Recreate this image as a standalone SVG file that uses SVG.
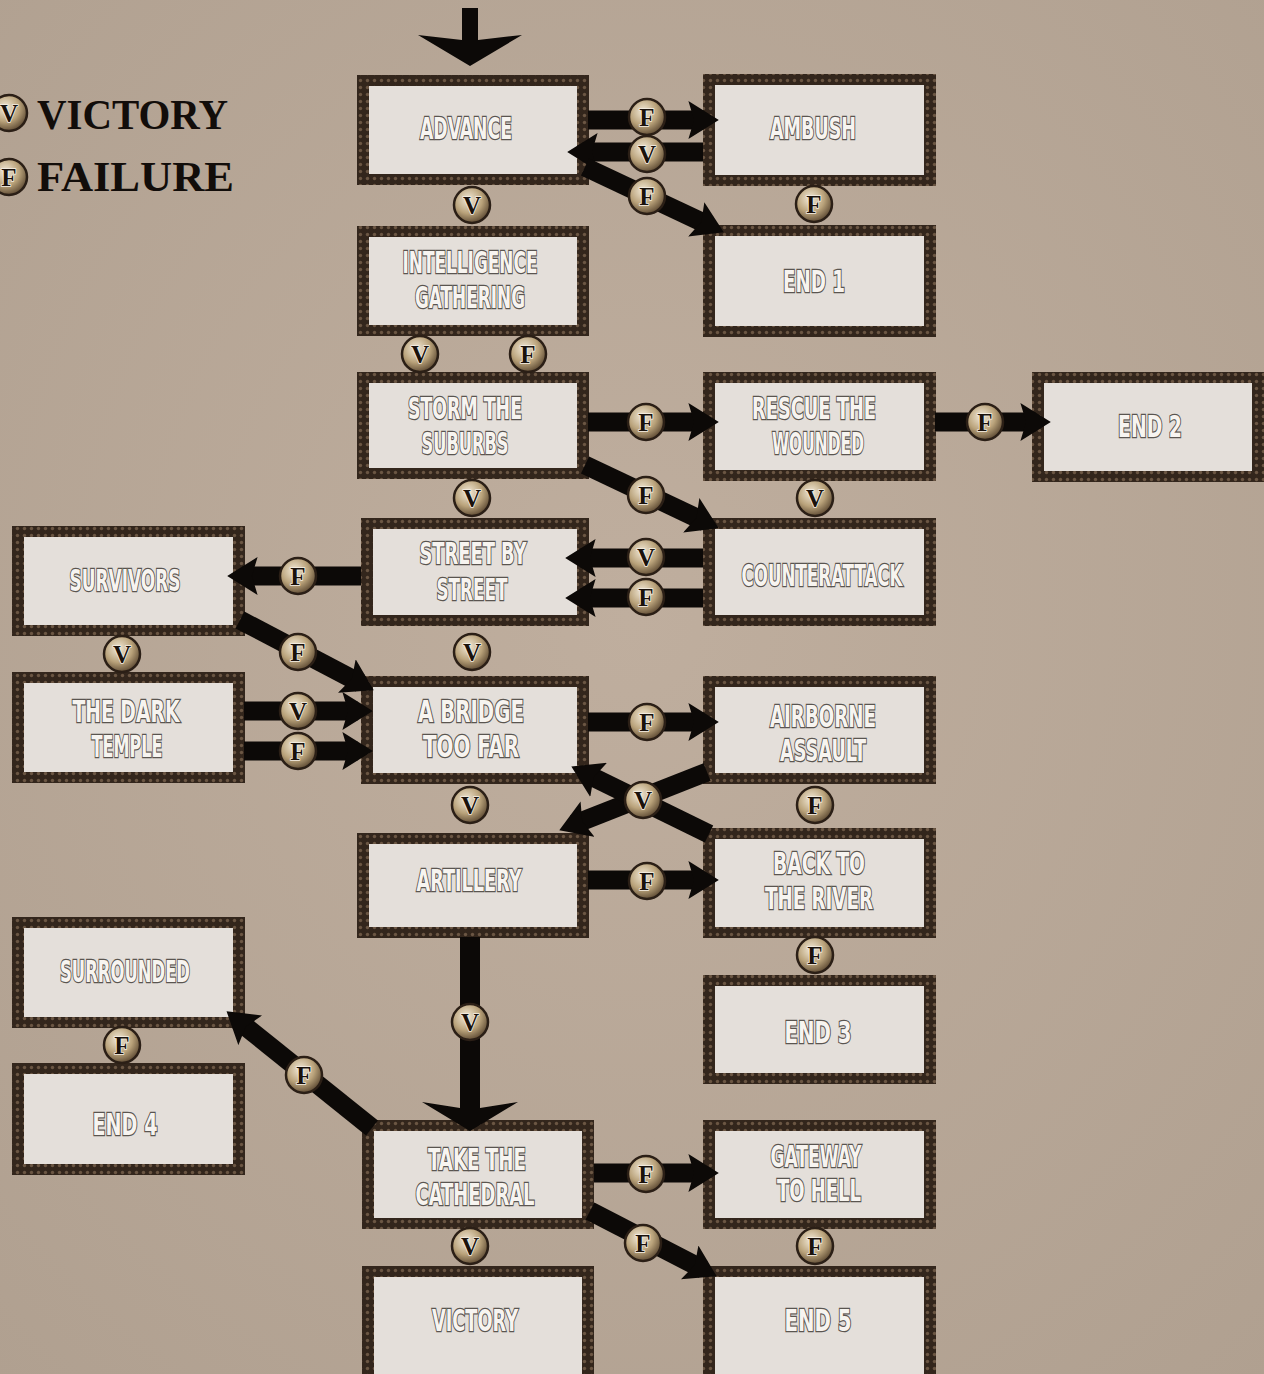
<svg xmlns="http://www.w3.org/2000/svg" width="1264" height="1374" viewBox="0 0 1264 1374">
<defs>
<style>
.frame{fill:url(#bead)}
.inner{fill:#e4dfda}
.lbl{font-family:"DejaVu Sans Condensed","DejaVu Sans","Liberation Sans",sans-serif;font-stretch:condensed;font-size:30px;font-weight:bold;fill:#f7f4f0;stroke:#5a5550;stroke-width:2.5;paint-order:stroke;text-anchor:middle;dominant-baseline:central}
.arr{stroke:#0c0907;stroke-width:19;fill:none;marker-end:url(#ah)}
.bc{fill:url(#bg);stroke:#2b1f16;stroke-width:2.5}
.bt{font-family:"Liberation Serif","DejaVu Serif",serif;font-weight:bold;font-size:25px;fill:#1a120c;stroke:#f4eee4;stroke-width:1.5;paint-order:stroke;text-anchor:middle;dominant-baseline:central}
.leg{font-family:"Liberation Serif","DejaVu Serif",serif;font-weight:bold;font-size:42px;fill:#120d0a}
</style>
<pattern id="bead" width="7" height="7" patternUnits="userSpaceOnUse">
<rect width="7" height="7" fill="#33261c"/>
<circle cx="3.5" cy="3.5" r="1.7" fill="#6b5643"/>
</pattern>
<radialGradient id="bg" cx="40%" cy="35%" r="70%">
<stop offset="0" stop-color="#f3ead8"/>
<stop offset="0.55" stop-color="#b9a27a"/>
<stop offset="1" stop-color="#54412c"/>
</radialGradient>
<radialGradient id="paper" cx="50%" cy="45%" r="75%">
<stop offset="0" stop-color="#bfae9e"/>
<stop offset="1" stop-color="#b0a090"/>
</radialGradient>
<marker id="ah" viewBox="0 0 16 20" refX="8" refY="10" markerWidth="1.6" markerHeight="2" orient="auto" markerUnits="strokeWidth">
<path d="M0,0 L16,10 L0,20 L3,10 z" fill="#0c0907"/>
</marker>
</defs>

<rect width="1264" height="1374" fill="url(#paper)"/>

<g id="legend">
<circle class="bc" cx="9" cy="113" r="18"/>
<text class="bt" x="9" y="113">V</text>
<circle class="bc" cx="9" cy="177" r="18"/>
<text class="bt" x="9" y="177">F</text>
<text class="leg" x="37" y="129" textLength="191" lengthAdjust="spacingAndGlyphs">VICTORY</text>
<text class="leg" x="37" y="191" textLength="197" lengthAdjust="spacingAndGlyphs">FAILURE</text>
</g>

<g id="nodes">
<g id="n-advance"><rect class="frame" x="357" y="75" width="232" height="110"/><rect class="inner" x="369" y="86" width="208" height="88"/><text class="lbl" x="466" y="128" textLength="92" lengthAdjust="spacingAndGlyphs">ADVANCE</text></g>
<g id="n-ambush"><rect class="frame" x="703" y="74" width="233" height="112"/><rect class="inner" x="715" y="85" width="209" height="90"/><text class="lbl" x="813" y="128" textLength="86" lengthAdjust="spacingAndGlyphs">AMBUSH</text></g>
<g id="n-intel"><rect class="frame" x="357" y="226" width="232" height="110"/><rect class="inner" x="369" y="237" width="208" height="88"/><text class="lbl" x="470" y="262" textLength="135" lengthAdjust="spacingAndGlyphs">INTELLIGENCE</text><text class="lbl" x="470" y="297" textLength="110" lengthAdjust="spacingAndGlyphs">GATHERING</text></g>
<g id="n-end1"><rect class="frame" x="703" y="225" width="233" height="112"/><rect class="inner" x="715" y="236" width="209" height="90"/><text class="lbl" x="814" y="281" textLength="62" lengthAdjust="spacingAndGlyphs">END 1</text></g>
<g id="n-storm"><rect class="frame" x="357" y="372" width="232" height="107"/><rect class="inner" x="369" y="383" width="208" height="85"/><text class="lbl" x="465" y="408" textLength="114" lengthAdjust="spacingAndGlyphs">STORM THE</text><text class="lbl" x="465" y="443" textLength="87" lengthAdjust="spacingAndGlyphs">SUBURBS</text></g>
<g id="n-rescue"><rect class="frame" x="703" y="372" width="233" height="109"/><rect class="inner" x="715" y="383" width="209" height="87"/><text class="lbl" x="814" y="408" textLength="124" lengthAdjust="spacingAndGlyphs">RESCUE THE</text><text class="lbl" x="818" y="443" textLength="92" lengthAdjust="spacingAndGlyphs">WOUNDED</text></g>
<g id="n-end2"><rect class="frame" x="1032" y="372" width="232" height="110"/><rect class="inner" x="1044" y="383" width="208" height="88"/><text class="lbl" x="1150" y="426" textLength="64" lengthAdjust="spacingAndGlyphs">END 2</text></g>
<g id="n-street"><rect class="frame" x="361" y="518" width="228" height="108"/><rect class="inner" x="373" y="529" width="204" height="86"/><text class="lbl" x="473" y="553" textLength="107" lengthAdjust="spacingAndGlyphs">STREET BY</text><text class="lbl" x="472" y="589" textLength="71" lengthAdjust="spacingAndGlyphs">STREET</text></g>
<g id="n-counter"><rect class="frame" x="703" y="518" width="233" height="108"/><rect class="inner" x="715" y="529" width="209" height="86"/><text class="lbl" x="822" y="575" textLength="161" lengthAdjust="spacingAndGlyphs">COUNTERATTACK</text></g>
<g id="n-survivors"><rect class="frame" x="12" y="526" width="233" height="110"/><rect class="inner" x="24" y="537" width="209" height="88"/><text class="lbl" x="125" y="580" textLength="111" lengthAdjust="spacingAndGlyphs">SURVIVORS</text></g>
<g id="n-temple"><rect class="frame" x="12" y="672" width="233" height="111"/><rect class="inner" x="24" y="683" width="209" height="89"/><text class="lbl" x="126" y="711" textLength="107" lengthAdjust="spacingAndGlyphs">THE DARK</text><text class="lbl" x="127" y="746" textLength="71" lengthAdjust="spacingAndGlyphs">TEMPLE</text></g>
<g id="n-bridge"><rect class="frame" x="361" y="676" width="228" height="108"/><rect class="inner" x="373" y="687" width="204" height="86"/><text class="lbl" x="471" y="711" textLength="106" lengthAdjust="spacingAndGlyphs">A BRIDGE</text><text class="lbl" x="471" y="746" textLength="96" lengthAdjust="spacingAndGlyphs">TOO FAR</text></g>
<g id="n-airborne"><rect class="frame" x="703" y="676" width="233" height="108"/><rect class="inner" x="715" y="687" width="209" height="86"/><text class="lbl" x="823" y="716" textLength="106" lengthAdjust="spacingAndGlyphs">AIRBORNE</text><text class="lbl" x="823" y="750" textLength="86" lengthAdjust="spacingAndGlyphs">ASSAULT</text></g>
<g id="n-artillery"><rect class="frame" x="357" y="833" width="232" height="105"/><rect class="inner" x="369" y="844" width="208" height="83"/><text class="lbl" x="469" y="880" textLength="105" lengthAdjust="spacingAndGlyphs">ARTILLERY</text></g>
<g id="n-river"><rect class="frame" x="703" y="828" width="233" height="110"/><rect class="inner" x="715" y="839" width="209" height="88"/><text class="lbl" x="819" y="863" textLength="92" lengthAdjust="spacingAndGlyphs">BACK TO</text><text class="lbl" x="819" y="898" textLength="108" lengthAdjust="spacingAndGlyphs">THE RIVER</text></g>
<g id="n-end3"><rect class="frame" x="703" y="975" width="233" height="109"/><rect class="inner" x="715" y="986" width="209" height="87"/><text class="lbl" x="818" y="1032" textLength="67" lengthAdjust="spacingAndGlyphs">END 3</text></g>
<g id="n-surrounded"><rect class="frame" x="12" y="917" width="233" height="111"/><rect class="inner" x="24" y="928" width="209" height="89"/><text class="lbl" x="125" y="971" textLength="130" lengthAdjust="spacingAndGlyphs">SURROUNDED</text></g>
<g id="n-end4"><rect class="frame" x="12" y="1063" width="233" height="112"/><rect class="inner" x="24" y="1074" width="209" height="90"/><text class="lbl" x="125" y="1124" textLength="65" lengthAdjust="spacingAndGlyphs">END 4</text></g>
<g id="n-cathedral"><rect class="frame" x="362" y="1120" width="232" height="109"/><rect class="inner" x="374" y="1131" width="208" height="87"/><text class="lbl" x="477" y="1159" textLength="98" lengthAdjust="spacingAndGlyphs">TAKE THE</text><text class="lbl" x="475" y="1194" textLength="119" lengthAdjust="spacingAndGlyphs">CATHEDRAL</text></g>
<g id="n-gateway"><rect class="frame" x="703" y="1120" width="233" height="109"/><rect class="inner" x="715" y="1131" width="209" height="87"/><text class="lbl" x="816" y="1156" textLength="91" lengthAdjust="spacingAndGlyphs">GATEWAY</text><text class="lbl" x="819" y="1190" textLength="84" lengthAdjust="spacingAndGlyphs">TO HELL</text></g>
<g id="n-victory"><rect class="frame" x="362" y="1266" width="232" height="118"/><rect class="inner" x="374" y="1277" width="208" height="97"/><text class="lbl" x="475" y="1320" textLength="86" lengthAdjust="spacingAndGlyphs">VICTORY</text></g>
<g id="n-end5"><rect class="frame" x="703" y="1266" width="233" height="118"/><rect class="inner" x="715" y="1277" width="209" height="97"/><text class="lbl" x="818" y="1320" textLength="67" lengthAdjust="spacingAndGlyphs">END 5</text></g>
</g>

<g id="connectors">
<polygon fill="#0c0907" points="462,8 478,8 478,40 522,35 470,66 418,35 462,40"/>
<line class="arr" x1="588" y1="120" x2="703.6" y2="120"/>
<line class="arr" x1="703" y1="152" x2="582.4" y2="152"/>
<line class="arr" x1="585" y1="167" x2="710" y2="225.8"/>
<line class="arr" x1="588" y1="422" x2="703.6" y2="422"/>
<line class="arr" x1="585" y1="465" x2="705" y2="521.8"/>
<line class="arr" x1="935" y1="422" x2="1035.6" y2="422"/>
<line class="arr" x1="703" y1="558" x2="580.4" y2="558"/>
<line class="arr" x1="703" y1="598" x2="580.4" y2="598"/>
<line class="arr" x1="361" y1="576" x2="242.4" y2="576"/>
<line class="arr" x1="240" y1="620" x2="360.3" y2="683.1"/>
<line class="arr" x1="244" y1="711" x2="357.6" y2="711"/>
<line class="arr" x1="244" y1="751" x2="357.6" y2="751"/>
<line class="arr" x1="588" y1="722" x2="703.6" y2="722"/>
<line class="arr" x1="707" y1="772" x2="573.4" y2="824.7"/>
<line class="arr" x1="709" y1="834" x2="585" y2="773.2"/>
<line class="arr" x1="588" y1="880" x2="703.6" y2="880"/>
<polygon fill="#0c0907" points="460,937 480,937 480,1108 518,1102 470,1131 422,1102 460,1108"/>
<line class="arr" x1="372" y1="1128" x2="238.4" y2="1020.8"/>
<line class="arr" x1="594" y1="1173" x2="703.6" y2="1173"/>
<line class="arr" x1="590" y1="1211" x2="703.2" y2="1269.4"/>

<g class="badge"><circle class="bc" cx="647" cy="117" r="18"/><text class="bt" x="647" y="117">F</text></g>
<g class="badge"><circle class="bc" cx="647" cy="154" r="18"/><text class="bt" x="647" y="154">V</text></g>
<g class="badge"><circle class="bc" cx="647" cy="196" r="18"/><text class="bt" x="647" y="196">F</text></g>
<g class="badge"><circle class="bc" cx="472" cy="205" r="18"/><text class="bt" x="472" y="205">V</text></g>
<g class="badge"><circle class="bc" cx="814" cy="204" r="18"/><text class="bt" x="814" y="204">F</text></g>
<g class="badge"><circle class="bc" cx="420" cy="354" r="18"/><text class="bt" x="420" y="354">V</text></g>
<g class="badge"><circle class="bc" cx="528" cy="354" r="18"/><text class="bt" x="528" y="354">F</text></g>
<g class="badge"><circle class="bc" cx="646" cy="422" r="18"/><text class="bt" x="646" y="422">F</text></g>
<g class="badge"><circle class="bc" cx="646" cy="495" r="18"/><text class="bt" x="646" y="495">F</text></g>
<g class="badge"><circle class="bc" cx="985" cy="422" r="18"/><text class="bt" x="985" y="422">F</text></g>
<g class="badge"><circle class="bc" cx="815" cy="498" r="18"/><text class="bt" x="815" y="498">V</text></g>
<g class="badge"><circle class="bc" cx="472" cy="498" r="18"/><text class="bt" x="472" y="498">V</text></g>
<g class="badge"><circle class="bc" cx="646" cy="557" r="18"/><text class="bt" x="646" y="557">V</text></g>
<g class="badge"><circle class="bc" cx="646" cy="597" r="18"/><text class="bt" x="646" y="597">F</text></g>
<g class="badge"><circle class="bc" cx="298" cy="576" r="18"/><text class="bt" x="298" y="576">F</text></g>
<g class="badge"><circle class="bc" cx="298" cy="652" r="18"/><text class="bt" x="298" y="652">F</text></g>
<g class="badge"><circle class="bc" cx="122" cy="654" r="18"/><text class="bt" x="122" y="654">V</text></g>
<g class="badge"><circle class="bc" cx="472" cy="652" r="18"/><text class="bt" x="472" y="652">V</text></g>
<g class="badge"><circle class="bc" cx="298" cy="711" r="18"/><text class="bt" x="298" y="711">V</text></g>
<g class="badge"><circle class="bc" cx="298" cy="751" r="18"/><text class="bt" x="298" y="751">F</text></g>
<g class="badge"><circle class="bc" cx="647" cy="722" r="18"/><text class="bt" x="647" y="722">F</text></g>
<g class="badge"><circle class="bc" cx="643" cy="800" r="18"/><text class="bt" x="643" y="800">V</text></g>
<g class="badge"><circle class="bc" cx="470" cy="805" r="18"/><text class="bt" x="470" y="805">V</text></g>
<g class="badge"><circle class="bc" cx="815" cy="805" r="18"/><text class="bt" x="815" y="805">F</text></g>
<g class="badge"><circle class="bc" cx="647" cy="881" r="18"/><text class="bt" x="647" y="881">F</text></g>
<g class="badge"><circle class="bc" cx="815" cy="955" r="18"/><text class="bt" x="815" y="955">F</text></g>
<g class="badge"><circle class="bc" cx="470" cy="1022" r="18"/><text class="bt" x="470" y="1022">V</text></g>
<g class="badge"><circle class="bc" cx="304" cy="1075" r="18"/><text class="bt" x="304" y="1075">F</text></g>
<g class="badge"><circle class="bc" cx="122" cy="1045" r="18"/><text class="bt" x="122" y="1045">F</text></g>
<g class="badge"><circle class="bc" cx="646" cy="1174" r="18"/><text class="bt" x="646" y="1174">F</text></g>
<g class="badge"><circle class="bc" cx="643" cy="1243" r="18"/><text class="bt" x="643" y="1243">F</text></g>
<g class="badge"><circle class="bc" cx="470" cy="1246" r="18"/><text class="bt" x="470" y="1246">V</text></g>
<g class="badge"><circle class="bc" cx="815" cy="1246" r="18"/><text class="bt" x="815" y="1246">F</text></g>
</g>
</svg>
